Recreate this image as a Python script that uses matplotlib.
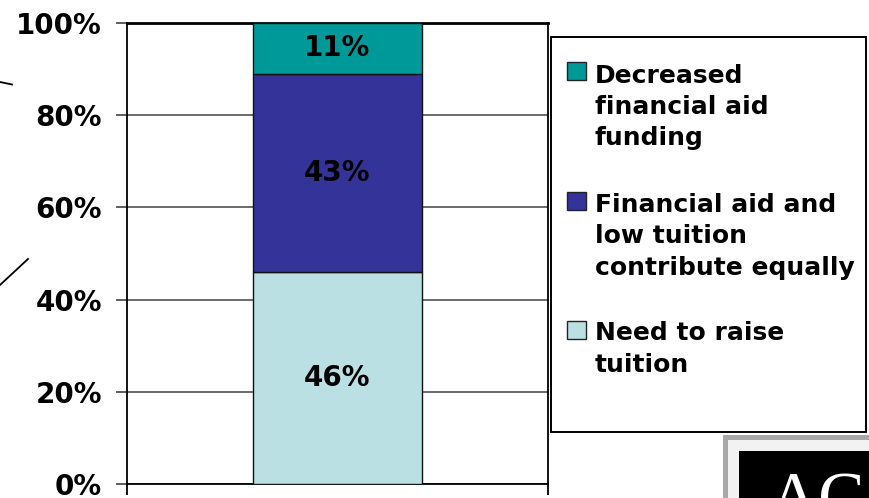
import matplotlib
matplotlib.use('Agg')
import matplotlib.pyplot as plt
from matplotlib.patches import Rectangle
from matplotlib.lines import Line2D

# ---------------- data ----------------
categories = ['']
series_labels = ['Need to raise\ntuition',
                 'Financial aid and\nlow tuition\ncontribute equally',
                 'Decreased\nfinancial aid\nfunding']
series_values = [46, 43, 11]
series_colors = ['#BBE0E3', '#333399', '#009999']
yticks = [0, 20, 40, 60, 80, 100]
ytick_labels = ['0%', '20%', '40%', '60%', '80%', '100%']

# ---------------- layout ----------------
W, H = 870, 498
fig = plt.figure(figsize=(W / 100, H / 100), dpi=100)
fig.patch.set_facecolor('white')


def fx(x):
    return x / W


def fy(y):
    return 1 - y / H


ax = fig.add_axes([fx(127), fy(484), (548 - 127) / W, (484 - 23) / H])

bottom = 0
for v, c in zip(series_values, series_colors):
    ax.bar(0, v, width=0.4, bottom=bottom, color=c, edgecolor='#111111',
           linewidth=1.0, zorder=3)
    ax.text(0, bottom + v / 2, f'{v}%', ha='center', va='center',
            fontsize=20, fontweight='bold', color='black', zorder=4)
    bottom += v

ax.set_xlim(-0.5, 0.5)
ax.set_ylim(0, 100)
ax.set_yticks(yticks)
ax.set_yticklabels(ytick_labels, fontsize=20, fontweight='bold')
ax.set_xticks([-0.5, 0.5])
ax.set_xticklabels(['', ''])
ax.tick_params(axis='y', length=8, width=1.2, color='#444444', pad=10)
ax.tick_params(axis='x', length=8, width=1.3, color='black')
ax.yaxis.grid(True, color='#444444', linewidth=1.1, zorder=0)
ax.set_axisbelow(True)
for s in ax.spines.values():
    s.set_color('black')
    s.set_linewidth(1.3)
ax.spines['top'].set_linewidth(2)

# ---------------- legend (drawn manually) ----------------
leg_box = Rectangle((fx(551), fy(432)), (866 - 551) / W, (432 - 37) / H,
                    transform=fig.transFigure, facecolor='white',
                    edgecolor='black', linewidth=1.4, zorder=5)
fig.add_artist(leg_box)

line_h = 32.5
gap = 32
baseline = 80
for lbl, c in zip(series_labels[::-1], series_colors[::-1]):
    n = lbl.count('\n')
    sq = Rectangle((fx(567), fy(baseline)), 19 / W, 18 / H,
                   transform=fig.transFigure, facecolor=c,
                   edgecolor='#222222', linewidth=1.0, zorder=6)
    fig.add_artist(sq)
    fig.text(fx(595), fy(baseline + n * line_h), lbl, ha='left', va='baseline',
             fontsize=18, fontweight='bold', linespacing=1.37, zorder=6)
    baseline += line_h * n + line_h + gap

# ---------------- decorations: logo & stray lines ----------------
fig.add_artist(Rectangle((fx(723), fy(500)), (875 - 723) / W, (500 - 435) / H,
                         transform=fig.transFigure, facecolor='#a8a8a8',
                         edgecolor='none', zorder=7))
fig.add_artist(Rectangle((fx(728), fy(500)), (875 - 728) / W, (500 - 440) / H,
                         transform=fig.transFigure, facecolor='#f2f2f2',
                         edgecolor='none', zorder=7))
fig.add_artist(Rectangle((fx(739), fy(500)), (875 - 739) / W, (500 - 451) / H,
                         transform=fig.transFigure, facecolor='black',
                         edgecolor='none', zorder=7))
fig.text(fx(768), fy(520), 'AC', color='white', fontsize=50,
         family='Liberation Serif', ha='left', va='baseline', zorder=8)

fig.add_artist(Line2D([fx(0), fx(12)], [fy(82), fy(84.5)],
                      transform=fig.transFigure, color='black', linewidth=1.3))
fig.add_artist(Line2D([fx(0), fx(28)], [fy(285), fy(259)],
                      transform=fig.transFigure, color='black', linewidth=1.3))

fig.savefig('out.png', dpi=100, facecolor='white')
